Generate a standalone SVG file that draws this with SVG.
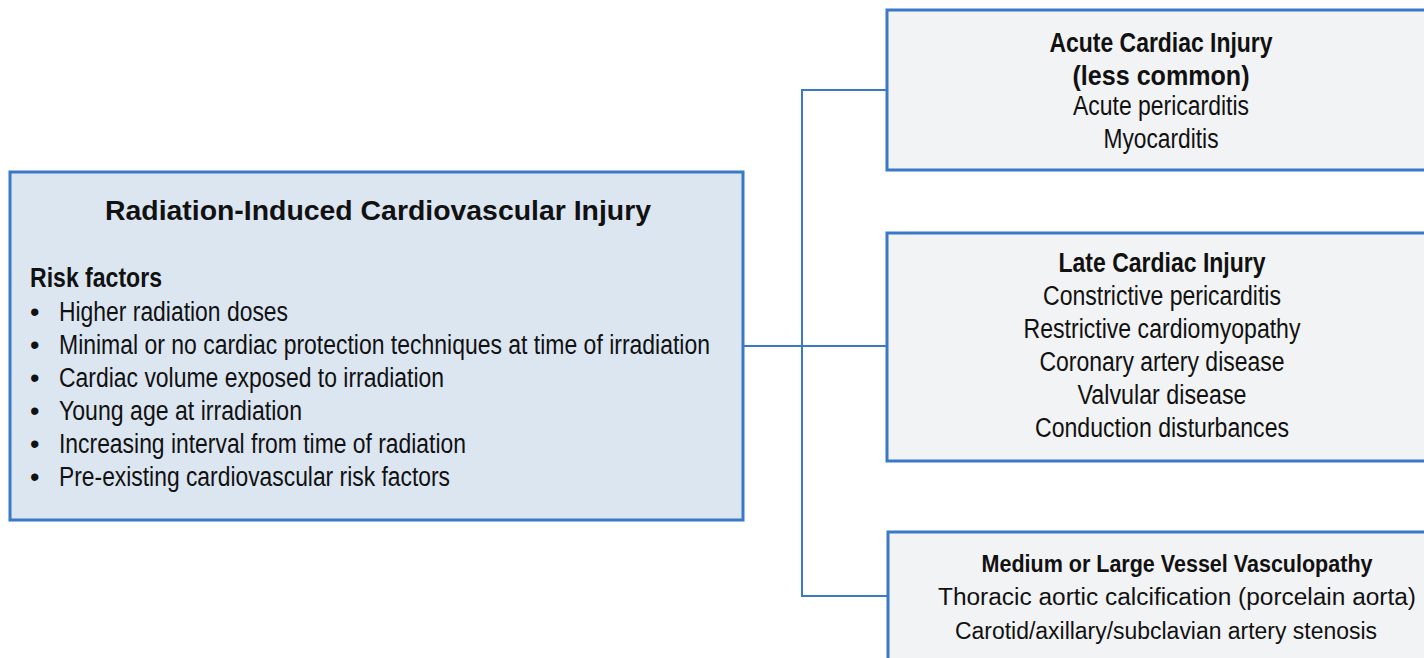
<svg xmlns="http://www.w3.org/2000/svg" width="1424" height="658" viewBox="0 0 1424 658">
<style>
text{font-family:"Liberation Sans",Arial,sans-serif;fill:#111;font-size:27px}
.b{font-weight:bold}
.c{text-anchor:middle}
.s{font-size:23px}
.main{fill:#dce6f1;stroke:#3a78c8;stroke-width:3}
.fill{fill:#f2f3f4}
.edge{fill:none;stroke:#3a78c8;stroke-width:3}
.con{fill:none;stroke:#3a78c8;stroke-width:2}
</style>
<rect width="1424" height="658" fill="#fff"/>
<g id="connectors">
<path class="con" d="M743 346 H887"/>
<path class="con" d="M887 90 H802 V596 H888"/>
</g>
<g id="main">
<rect class="main" x="10" y="172" width="733" height="348"/>
<text class="b c" x="378" y="220" font-size="29" textLength="546" lengthAdjust="spacingAndGlyphs">Radiation-Induced Cardiovascular Injury</text>
<text class="b" x="30" y="287" font-size="25" textLength="132" lengthAdjust="spacingAndGlyphs">Risk factors</text>
<text x="30" y="321">•</text><text x="59" y="321" textLength="229" lengthAdjust="spacingAndGlyphs">Higher radiation doses</text>
<text x="30" y="354">•</text><text x="59" y="354" textLength="651" lengthAdjust="spacingAndGlyphs">Minimal or no cardiac protection techniques at time of irradiation</text>
<text x="30" y="387">•</text><text x="59" y="387" textLength="385" lengthAdjust="spacingAndGlyphs">Cardiac volume exposed to irradiation</text>
<text x="30" y="420">•</text><text x="59" y="420" textLength="243" lengthAdjust="spacingAndGlyphs">Young age at irradiation</text>
<text x="30" y="453">•</text><text x="59" y="453" textLength="407" lengthAdjust="spacingAndGlyphs">Increasing interval from time of radiation</text>
<text x="30" y="486">•</text><text x="59" y="486" textLength="391" lengthAdjust="spacingAndGlyphs">Pre-existing cardiovascular risk factors</text>
</g>
<g id="acute">
<rect class="fill" x="887" y="10" width="537" height="160"/>
<path class="edge" d="M1424 10 H887 V170 H1424"/>
<text class="b c" x="1161" y="52" textLength="223" lengthAdjust="spacingAndGlyphs">Acute Cardiac Injury</text>
<text class="b c" x="1161" y="85" textLength="177" lengthAdjust="spacingAndGlyphs">(less common)</text>
<text class="c" x="1161" y="115" textLength="176" lengthAdjust="spacingAndGlyphs">Acute pericarditis</text>
<text class="c" x="1161" y="148" textLength="115" lengthAdjust="spacingAndGlyphs">Myocarditis</text>
</g>
<g id="late">
<rect class="fill" x="887" y="233" width="537" height="228"/>
<path class="edge" d="M1424 233 H887 V461 H1424"/>
<text class="b c" x="1162" y="272" textLength="207" lengthAdjust="spacingAndGlyphs">Late Cardiac Injury</text>
<text class="c" x="1162" y="305" textLength="238" lengthAdjust="spacingAndGlyphs">Constrictive pericarditis</text>
<text class="c" x="1162" y="338" textLength="277" lengthAdjust="spacingAndGlyphs">Restrictive cardiomyopathy</text>
<text class="c" x="1162" y="371" textLength="245" lengthAdjust="spacingAndGlyphs">Coronary artery disease</text>
<text class="c" x="1162" y="404" textLength="169" lengthAdjust="spacingAndGlyphs">Valvular disease</text>
<text class="c" x="1162" y="437" textLength="254" lengthAdjust="spacingAndGlyphs">Conduction disturbances</text>
</g>
<g id="vessel">
<rect class="fill" x="888" y="532" width="536" height="126"/>
<path class="edge" d="M1424 532 H888 V658"/>
<text class="b c s" x="1177" y="572" textLength="391" lengthAdjust="spacingAndGlyphs">Medium or Large Vessel Vasculopathy</text>
<text class="c s" x="1177" y="605" textLength="478" lengthAdjust="spacingAndGlyphs">Thoracic aortic calcification (porcelain aorta)</text>
<text class="c s" x="1166" y="639" textLength="422" lengthAdjust="spacingAndGlyphs">Carotid/axillary/subclavian artery stenosis</text>
</g>
</svg>
